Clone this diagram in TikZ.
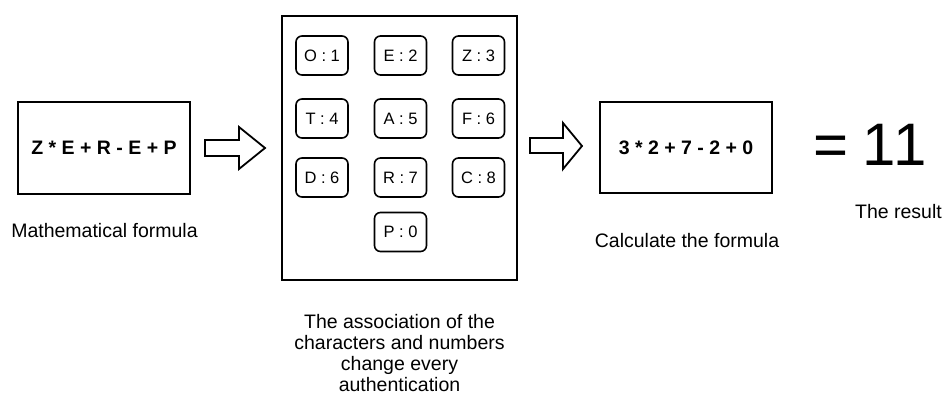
\documentclass[tikz,border=0pt]{standalone}
\usepackage{fontspec}
\setmainfont{Liberation Sans}
\begin{document}
\begin{tikzpicture}[x=1pt,y=-1pt,
  framebox/.style={draw=black,line width=2pt,minimum width=#1,inner sep=0pt},
  keybox/.style={draw=black,line width=1.6pt,rounded corners=6pt,minimum width=52pt,minimum height=39pt,inner sep=0pt,font=\fontsize{16.5}{16.5}\selectfont},
  formula/.style={font=\bfseries\fontsize{19.5}{19.5}\selectfont},
  caption/.style={font=\fontsize{19.5}{21}\selectfont,align=center},
  blockarrow/.style={draw=black,line width=1.8pt,fill=white,line join=miter},
  bignum/.style={font=\fontsize{60}{60}\selectfont,inner sep=0pt}
]
\useasboundingbox (0,0) rectangle (949,398);

% input formula
\node[framebox=172pt,minimum height=92pt,formula] (f1) at (104,148) {Z * E + R - E + P};
\node[caption,anchor=base] (c1) at (104.5,237) {Mathematical formula};

% arrow into the table
\draw[blockarrow] (205,140) -- (239,140) -- (239,127) -- (265,148) -- (239,169) -- (239,156) -- (205,156) -- cycle;

% substitution table
\node[framebox=235pt,minimum height=264pt] (tab) at (399.5,148) {};
\node[keybox] (k1) at (322,55.5) {O : 1};
\node[keybox] (k2) at (400.5,55.5) {E : 2};
\node[keybox] (k3) at (478.5,55.5) {Z : 3};
\node[keybox] (k4) at (322,118.5) {T : 4};
\node[keybox] (k5) at (400.5,118.5) {A : 5};
\node[keybox] (k6) at (478.5,118.5) {F : 6};
\node[keybox] (k7) at (322,177.5) {D : 6};
\node[keybox] (k8) at (400.5,177.5) {R : 7};
\node[keybox] (k9) at (478.5,177.5) {C : 8};
\node[keybox] (k10) at (400.5,232) {P : 0};
\node[caption,anchor=north] (c2) at (399.5,311) {The association of the\\characters and numbers\\change every\\authentication};

% arrow out of the table
\draw[blockarrow] (530,138) -- (563,138) -- (563,123) -- (582,146) -- (563,169) -- (563,153) -- (530,153) -- cycle;

% substituted formula
\node[framebox=172pt,minimum height=91pt,formula] (f2) at (686,147.5) {3 * 2 + 7 - 2 + 0};
\node[caption,anchor=base] (c3) at (687,247) {Calculate the formula};

% result
\node[bignum,anchor=base] (eq) at (831,166) {=};
\node[bignum,anchor=base west] (res) at (862,166) {1\kern-2pt1};
\node[caption,anchor=base] (c4) at (898.5,218) {The result};
\end{tikzpicture}
\end{document}
